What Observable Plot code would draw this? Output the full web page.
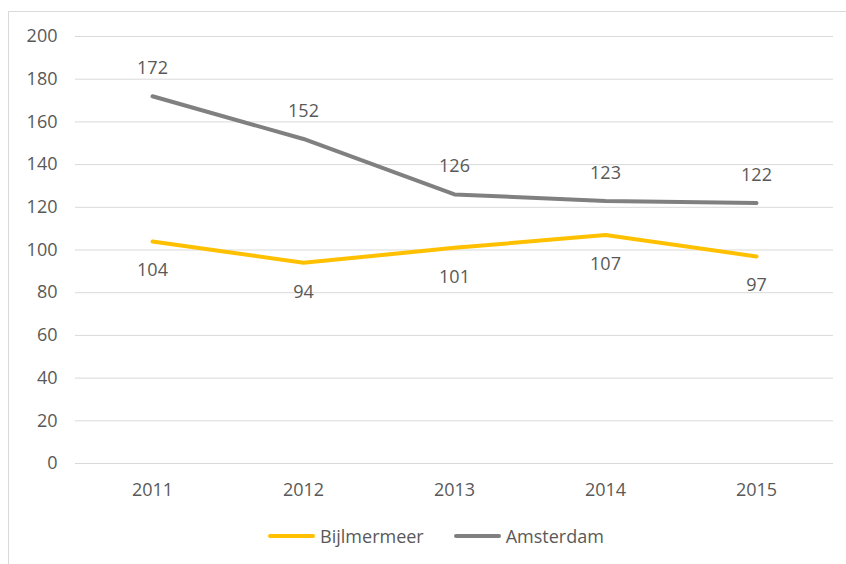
<!DOCTYPE html>
<html>
<head>
<meta charset="utf-8">
<script src="https://cdn.jsdelivr.net/npm/d3@7"></script>
<script src="https://cdn.jsdelivr.net/npm/@observablehq/plot@0.6"></script>
<style>
  html, body { margin: 0; padding: 0; background: #fff; overflow: hidden; }
  #wrap { position: relative; width: 846px; height: 564px; overflow: hidden; font-family: "Open Sans", sans-serif; }
  #frame { position: absolute; left: 8px; top: 11px; width: 900px; height: 600px; border: 1px solid #d9d9d9; box-sizing: border-box; }
  #chart { position: absolute; left: 0; top: 0; }
  #legend { position: absolute; left: 13px; top: 524px; width: 846px; display: flex; justify-content: center; gap: 30px; font-size: 18px; color: #595959; }
  .item { display: flex; align-items: center; gap: 5px; }
  .sw { width: 47px; height: 4px; border-radius: 2px; }
</style>
</head>
<body>
<div id="wrap">
  <div id="frame"></div>
  <div id="chart"></div>
  <div id="legend"></div>
</div>
<script>
const years = ["2011", "2012", "2013", "2014", "2015"];
const bijlmermeer = [104, 94, 101, 107, 97];
const amsterdam = [172, 152, 126, 123, 122];
const seriesNames = ["Bijlmermeer", "Amsterdam"];
const seriesColors = ["#FFC000", "#808080"];
const yTicks = [0, 20, 40, 60, 80, 100, 120, 140, 160, 180, 200];

const rowsB = years.map((y, i) => ({year: y, value: bijlmermeer[i], series: seriesNames[0]}));
const rowsA = years.map((y, i) => ({year: y, value: amsterdam[i], series: seriesNames[1]}));

const chart = Plot.plot({
  width: 846,
  height: 500,
  marginTop: 36,
  marginBottom: 37,
  marginLeft: 75,
  marginRight: 13,
  style: {fontFamily: "Open Sans, sans-serif", fontSize: "18px", color: "#595959", background: "transparent"},
  x: {type: "point", domain: years, padding: 0.5, label: null},
  y: {domain: [0, 200], label: null},
  marks: [
    Plot.gridY(yTicks, {stroke: "#d9d9d9", strokeOpacity: 1, strokeWidth: 1}),
    Plot.axisY(yTicks, {tickSize: 0, tickPadding: 18, label: null, fill: "#595959"}),
    Plot.axisX({tickSize: 0, tickPadding: 20, label: null, fill: "#595959"}),
    Plot.line(rowsA, {x: "year", y: "value", stroke: seriesColors[1], strokeWidth: 4, strokeLinecap: "round", strokeLinejoin: "round"}),
    Plot.line(rowsB, {x: "year", y: "value", stroke: seriesColors[0], strokeWidth: 4, strokeLinecap: "round", strokeLinejoin: "round"}),
    Plot.text(rowsA, {x: "year", y: "value", text: d => String(d.value), dy: -28, fill: "#595959", fontSize: 18}),
    Plot.text(rowsB, {x: "year", y: "value", text: d => String(d.value), dy: 29, fill: "#595959", fontSize: 18})
  ]
});
document.getElementById("chart").appendChild(chart);

const legend = document.getElementById("legend");
seriesNames.forEach((name, i) => {
  const item = document.createElement("div");
  item.className = "item";
  const sw = document.createElement("div");
  sw.className = "sw";
  sw.style.background = seriesColors[i];
  const label = document.createElement("span");
  label.textContent = name;
  item.appendChild(sw);
  item.appendChild(label);
  legend.appendChild(item);
});
</script>
</body>
</html>
